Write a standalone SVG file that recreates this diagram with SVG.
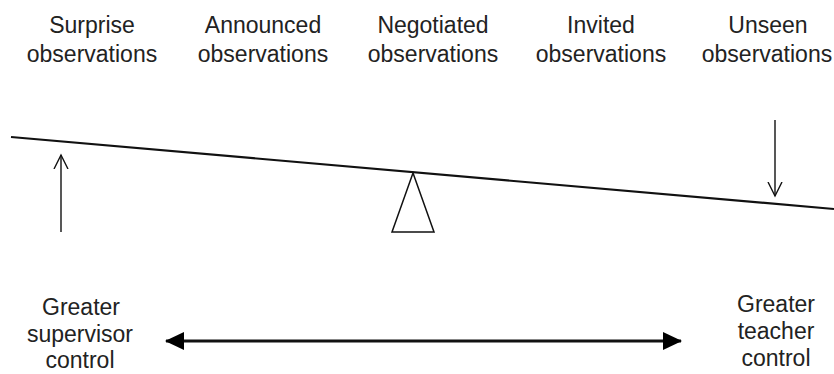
<svg xmlns="http://www.w3.org/2000/svg" width="834" height="374" viewBox="0 0 834 374">
<style>
text{font-family:"Liberation Sans",Arial,sans-serif;font-size:23px;fill:#222;text-anchor:middle}
.ln{stroke:#111;fill:none}
</style>
<defs>
<marker id="open" markerWidth="16" markerHeight="16" refX="14" refY="8" orient="auto" markerUnits="userSpaceOnUse">
<path d="M0,1 L14,8 L0,15" fill="none" stroke="#111" stroke-width="1.4"/>
</marker>
<marker id="solid" markerWidth="20" markerHeight="20" refX="18" refY="10" orient="auto-start-reverse" markerUnits="userSpaceOnUse">
<path d="M0,1 L19,10 L0,19 Z" fill="#000"/>
</marker>
</defs>
<rect width="834" height="374" fill="#fff"/>
<g id="surprise"><text x="92" y="33">Surprise</text><text x="92" y="62">observations</text></g>
<g id="announced"><text x="263" y="33">Announced</text><text x="263" y="62">observations</text></g>
<g id="negotiated"><text x="433" y="33">Negotiated</text><text x="433" y="62">observations</text></g>
<g id="invited"><text x="601" y="33">Invited</text><text x="601" y="62">observations</text></g>
<g id="unseen"><text x="768" y="33">Unseen</text><text x="767" y="62">observations</text></g>
<g id="seesaw">
<line class="ln" x1="11" y1="137" x2="834" y2="209" stroke-width="2.2"/>
<path class="ln" d="M413,173 L392,232 L434,232 Z" stroke-width="1.5"/>
</g>
<g id="supervisor"><text x="81" y="315">Greater</text><text x="80" y="342">supervisor</text><text x="80" y="368">control</text></g>
<g id="teacher"><text x="776" y="312">Greater</text><text x="776" y="339">teacher</text><text x="776" y="366">control</text></g>
<g id="connectors">
<line class="ln" x1="61" y1="232" x2="61" y2="155" stroke-width="1.4" marker-end="url(#open)"/>
<line class="ln" x1="775" y1="120" x2="775" y2="196" stroke-width="1.4" marker-end="url(#open)"/>
<line class="ln" x1="166" y1="341" x2="681" y2="341" stroke-width="3" marker-start="url(#solid)" marker-end="url(#solid)"/>
</g>
</svg>
